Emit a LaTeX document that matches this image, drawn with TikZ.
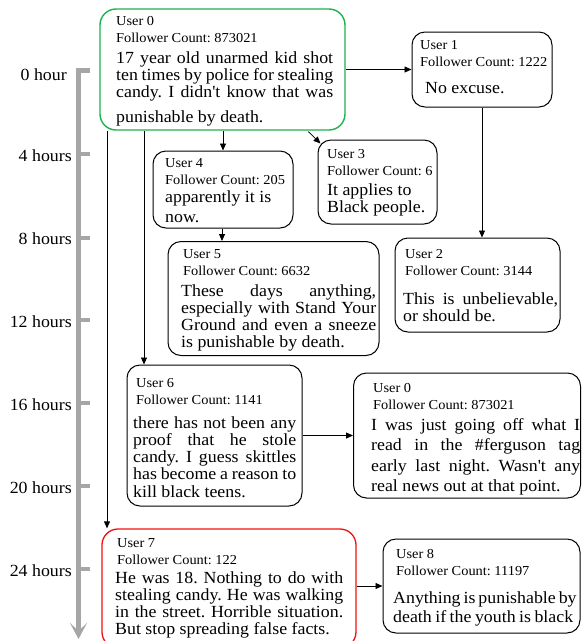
\documentclass[tikz,border=0pt]{standalone}
\usepackage{fontspec}
\setmainfont{Liberation Serif}[FakeStretch=1.05]
\usetikzlibrary{arrows.meta,calc}
\definecolor{tlgray}{HTML}{A6A6A6}
\definecolor{pgreen}{HTML}{1FB14B}
\definecolor{pred}{HTML}{F01010}
\newcommand\jline[2]{\makebox[#1][s]{#2}}
\newcommand\apos{\textquotesingle}
\tikzset{
  post/.style={draw=black, line width=1pt, rounded corners=13pt, inner sep=0pt},
  head/.style={anchor=base west, inner sep=0pt, font=\fontsize{13.7}{17.5}\selectfont},
  body/.style={anchor=base west, inner sep=0pt, font=\fontsize{17}{17}\selectfont},
  conn/.style={-{Triangle[length=7pt,width=6pt]}, line width=0.8pt},
  tline/.style={draw=tlgray, line width=4.5pt},
  hr/.style={anchor=base east, inner sep=0pt, font=\fontsize{17}{17}\selectfont},
}
\begin{document}
\frenchspacing
\begin{tikzpicture}[x=1pt,y=-1pt]
\useasboundingbox (0,0) rectangle (582,641);
\clip (0,0) rectangle (582,641);

% timeline
\draw[tline, -{Stealth[length=16pt,width=17pt,inset=8pt]}] (90,70.5) -- (78.5,70.5) -- (78.5,639);
\foreach \y in {154,238,320,403,486,569}
  \draw[tline] (78.5,\y) -- (90,\y);
\node[hr] (h0) at (67,80) {0 hour};
\node[hr] (h4) at (72,161) {4 hours};
\node[hr] (h8) at (72,244) {8 hours};
\node[hr] (h12) at (72,327) {12 hours};
\node[hr] (h16) at (72,410) {16 hours};
\node[hr] (h20) at (72,493) {20 hours};
\node[hr] (h24) at (72,576) {24 hours};

% boxes
\node[post, draw=pgreen, line width=1.4pt, rounded corners=16pt, minimum width=245pt, minimum height=121pt] (u0) at (222.5,69.5) {};
\node[post, minimum width=140pt, minimum height=75pt] (u1) at (482,69.5) {};
\node[post, minimum width=140pt, minimum height=77pt] (u4) at (223,189.5) {};
\node[post, minimum width=119pt, minimum height=84pt] (u3) at (377.5,182) {};
\node[post, minimum width=211pt, minimum height=114pt] (u5) at (273.5,298.5) {};
\node[post, minimum width=165pt, minimum height=94pt] (u2) at (477.5,285) {};
\node[post, minimum width=175pt, minimum height=141pt] (u6) at (214.5,435.5) {};
\node[post, minimum width=227pt, minimum height=125pt] (u0b) at (467,435.5) {};
\node[post, draw=pred, line width=1.3pt, rounded corners=16pt, minimum width=254pt, minimum height=119pt] (u7) at (229,588.5) {};
\node[post, minimum width=197pt, minimum height=94pt] (u8) at (481.5,586) {};

% texts
\node[head] (u0h) at (116,25) {\parbox[t]{220pt}{User 0\\Follower Count: 873021}};
\node[body] (u0t) at (116,63) {\parbox[t]{217pt}{%
  \jline{217pt}{17 year old unarmed kid shot}\\
  \jline{217pt}{ten times by police for stealing}\\
  \jline{217pt}{candy. I didn\apos t know that was}\\[8pt]
  punishable by death.}};

\node[head] (u1h) at (420,49) {\parbox[t]{130pt}{User 1\\Follower Count: 1222}};
\node[body] (u1t) at (425,93) {No excuse.};

\node[head] (u4h) at (165,167) {\parbox[t]{125pt}{User 4\\Follower Count: 205}};
\node[body] (u4t) at (165,202) {\parbox[t]{125pt}{apparently it is\\[3pt]now.}};

\node[head] (u3h) at (327,158) {\parbox[t]{110pt}{User 3\\Follower Count: 6}};
\node[body] (u3t) at (327,195) {\parbox[t]{110pt}{It applies to\\Black people.}};

\node[head] (u5h) at (183,258) {\parbox[t]{190pt}{User 5\\Follower Count: 6632}};
\node[body] (u5t) at (181,296) {\parbox[t]{195pt}{%
  \jline{195pt}{These days anything,}\\
  \jline{195pt}{especially with Stand Your}\\
  \jline{195pt}{Ground and even a sneeze}\\
  is punishable by death.}};

\node[head] (u2h) at (405,258) {\parbox[t]{150pt}{User 2\\Follower Count: 3144}};
\node[body] (u2t) at (403,304) {\parbox[t]{155pt}{%
  \jline{155pt}{This is unbelievable,}\\
  or should be.}};

\node[head] (u6h) at (136,387) {\parbox[t]{160pt}{User 6\\Follower Count: 1141}};
\node[body] (u6t) at (133,428) {\parbox[t]{163pt}{\fontsize{17}{17.3}\selectfont
  \jline{163pt}{there has not been any}\\
  \jline{163pt}{proof that he stole}\\
  \jline{163pt}{candy. I guess skittles}\\
  \jline{163pt}{has become a reason to}\\
  kill black teens.}};

\node[head] (u0bh) at (373,392) {\parbox[t]{200pt}{User 0\\Follower Count: 873021}};
\node[body] (u0bt) at (371,430) {\parbox[t]{209pt}{\fontsize{17}{20.5}\selectfont
  \jline{209pt}{I was just going off what I}\\
  \jline{209pt}{read in the \#ferguson tag}\\
  \jline{209pt}{early last night. Wasn\apos t any}\\
  real news out at that point.}};

\node[head] (u7h) at (117,547) {\parbox[t]{220pt}{User 7\\Follower Count: 122}};
\node[body] (u7t) at (115,583) {\parbox[t]{228pt}{%
  \jline{228pt}{He was 18. Nothing to do with}\\
  \jline{228pt}{stealing candy. He was walking}\\
  \jline{228pt}{in the street. Horrible situation.}\\
  But stop spreading false facts.}};

\node[head] (u8h) at (396,558) {\parbox[t]{175pt}{User 8\\Follower Count: 11197}};
\node[body] (u8t) at (393,603) {\parbox[t]{180pt}{%
  \jline{180pt}{Anything is punishable by}\\[2pt]
  \jline{180pt}{death if the youth is black}}};

% connectors
\coordinate (c7) at (107,0);
\coordinate (c6) at (144,0);
\draw[conn] (u0.east |- u1.west) -- (u1.west);
\draw[conn] (u1.south) -- (u1.south |- u2.north);
\draw[conn] (u4.north |- u0.south) -- (u4.north);
\draw[conn] ($(u0.south)+(86,1)$) -- ($(u3.north west)+(3,4)$);
\draw[conn] (u4.south -| 222,0) -- (u5.north -| 222,0);
\draw[conn] (c6 |- u0.south) -- (c6 |- u6.north);
\draw[conn] (c7 |- u0.south) -- (c7 |- u7.north);
\draw[conn] (u6.east) -- (u6.east -| u0b.west);
\draw[conn] (u8.west -| u7.east) -- (u8.west);
\end{tikzpicture}
\end{document}
